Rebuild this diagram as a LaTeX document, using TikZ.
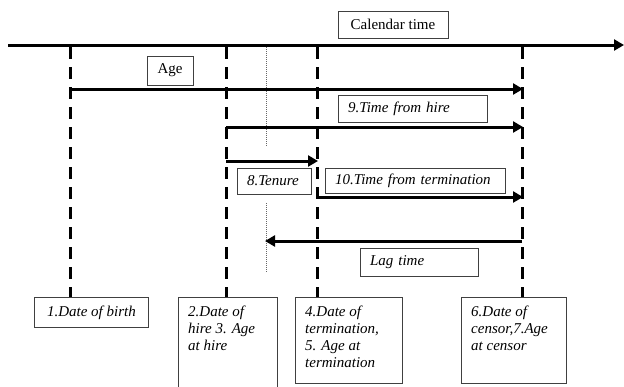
\documentclass[tikz,border=0pt]{standalone}
\usepackage{fontspec}
\setmainfont{Liberation Serif}
\usetikzlibrary{arrows.meta}
\tikzset{
  lbl/.style={draw=black!75, line width=0.8pt, fill=white, inner sep=0pt,
    font=\fontsize{15}{17}\selectfont},
  ilbl/.style={draw=black!75, line width=0.8pt, fill=white, inner ysep=0pt, inner xsep=10pt,
    align=left, font=\fontsize{15}{17}\selectfont\itshape},
  bbox/.style={draw=black!75, line width=0.8pt, fill=white, inner sep=0pt, anchor=north west},
  btext/.style={inner sep=0pt, anchor=north west, align=left,
    font=\fontsize{15}{17}\selectfont\itshape},
  thick arrow/.style={line width=3pt, -{Triangle[length=10pt,width=11pt]}},
  dashv/.style={line width=3pt, dash pattern=on 12pt off 8pt},
  dotv/.style={line width=0.6pt, draw=black!60, dash pattern=on 1pt off 1pt}
}
\begin{document}
\begin{tikzpicture}[x=1pt,y=-1pt]
\clip (0,0) rectangle (624,386);
\fill[white] (0,0) rectangle (624,386);

% bottom boxes
\node[bbox, minimum width=114pt, minimum height=30pt] (birth) at (34,297) {};
\node[btext, anchor=center] (birthT) at (birth.center) {1.Date of birth};
\node[bbox, minimum width=99pt, minimum height=110pt] (hire) at (178,297) {};
\node[btext] (hireT) at ([shift={(10,9)}]hire.north west) {2.Date of\\hire 3. Age\\at hire};
\node[bbox, minimum width=107pt, minimum height=86pt] (term) at (295,297) {};
\node[btext] (termT) at ([shift={(10,9)}]term.north west) {4.Date of\\termination,\\5. Age at\\termination};
\node[bbox, minimum width=105pt, minimum height=86pt] (cens) at (461,297) {};
\node[btext] (censT) at ([shift={(10,9)}]cens.north west) {6.Date of\\censor,7.Age\\at censor};

% axis
\coordinate (axL) at (8,45);
\coordinate (axR) at (624,45);
\draw[line width=3pt, -{Triangle[length=10pt,width=11pt]}] (axL) -- (axR);
\node[lbl, minimum width=110pt, minimum height=27pt] (cal) at (393,24.5) {Calendar time};

% vertical dashed lines
\coordinate (v1) at (70,47);
\coordinate (v2) at (226,47);
\coordinate (v3) at (317,47);
\coordinate (v4) at (522,47);
\draw[dashv] (v1) -- (v1 |- birth.north);
\draw[dashv] (v2) -- (v2 |- hire.north);
\draw[dashv] (v3) -- (v3 |- term.north);
\draw[dashv] (v4) -- (v4 |- cens.north);

% dotted line
\coordinate (d1) at (266,47);
\coordinate (d2) at (266,147);
\coordinate (d3) at (266,203);
\coordinate (d4) at (266,272);
\draw[dotv] (d1) -- (d2);
\draw[dotv] (d3) -- (d4);

% Age
\node[lbl, minimum width=46pt, minimum height=29pt] (age) at (170,70.5) {Age};
\coordinate (ageS) at (70,89);
\coordinate (ageE) at (523,89);
\draw[thick arrow] (ageS) -- (ageE);

% Time from hire
\node[ilbl, text width=129pt, minimum height=27pt] (tfh) at (412.5,108.5) {9.Time from hire};
\coordinate (tfhS) at (226,127);
\coordinate (tfhE) at (523,127);
\draw[thick arrow] (tfhS) -- (tfhE);

% Tenure
\coordinate (tenS) at (226,161);
\coordinate (tenE) at (318,161);
\draw[thick arrow] (tenS) -- (tenE);
\node[ilbl, text width=54pt, minimum height=26pt] (ten) at (274,181) {8.Tenure};

% Time from termination
\node[ilbl, text width=160pt, minimum height=25pt] (tft) at (415,180.5) {10.Time from termination};
\coordinate (tftS) at (317,197);
\coordinate (tftE) at (523,197);
\draw[thick arrow] (tftS) -- (tftE);

% Lag time
\coordinate (lagS) at (522,241);
\coordinate (lagE) at (265,241);
\draw[thick arrow] (lagS) -- (lagE);
\node[ilbl, text width=98pt, minimum height=28pt] (lag) at (419,262) {Lag time};
\end{tikzpicture}
\end{document}
